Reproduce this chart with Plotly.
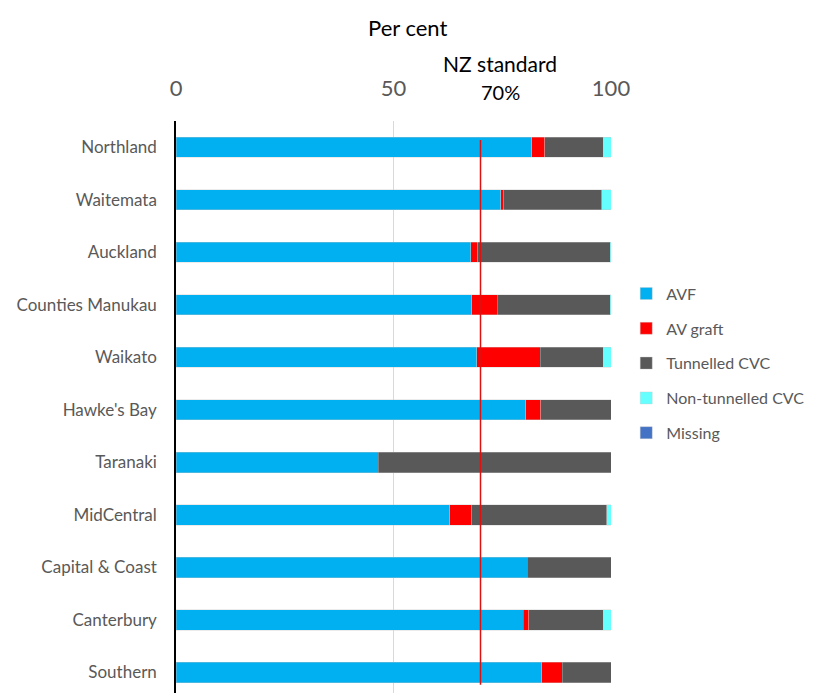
import plotly.graph_objects as go

regions = ["Northland", "Waitemata", "Auckland", "Counties Manukau", "Waikato",
           "Hawke's Bay", "Taranaki", "MidCentral", "Capital & Coast", "Canterbury", "Southern"]
avf = [81.8, 74.6, 67.7, 68.0, 69.1, 80.4, 46.5, 62.9, 80.8, 79.8, 84.1]
av_graft = [3.0, 0.7, 1.7, 5.8, 14.6, 3.4, 0.0, 5.1, 0.0, 1.3, 4.7]
tunnelled_cvc = [13.4, 22.6, 30.4, 26.0, 14.5, 16.2, 53.5, 31.0, 19.2, 17.1, 11.2]
non_tunnelled_cvc = [1.8, 2.1, 0.2, 0.2, 1.8, 0.0, 0.0, 1.0, 0.0, 1.8, 0.0]
missing = [0, 0, 0, 0, 0, 0, 0, 0, 0, 0, 0]
nz_standard = 70
x_ticks = [0, 50, 100]

series = [
    ("AVF", avf, "#00B0F0"),
    ("AV graft", av_graft, "#FF0000"),
    ("Tunnelled CVC", tunnelled_cvc, "#595959"),
    ("Non-tunnelled CVC", non_tunnelled_cvc, "#66FFFF"),
    ("Missing", missing, "#4472C4"),
]

FONT = "Lato, 'Open Sans', sans-serif"
fig = go.Figure()
for name, vals, col in series:
    fig.add_trace(go.Bar(
        y=regions, x=vals, name=name, orientation="h",
        marker=dict(color=col, line=dict(color="rgba(200,200,200,0.6)", width=0.6)),
        legendgroup=name,
    ))

fig.add_shape(type="line", xref="x", yref="y", x0=nz_standard, x1=nz_standard,
              y0=-0.14, y1=10.24, line=dict(color="#E01010", width=1.5))

fig.add_annotation(text="Per cent", xref="x", yref="paper", x=53.3, y=1.164,
                   xanchor="center", yanchor="middle",
                   showarrow=False, font=dict(family=FONT, size=22, color="black"))
fig.add_annotation(text="NZ standard", xref="x", yref="paper", x=74.5, y=1.101,
                   xanchor="center", yanchor="middle",
                   showarrow=False, font=dict(family=FONT, size=21, color="black"))
fig.add_annotation(text=f"{nz_standard}%", xref="x", yref="paper", x=74.5, y=1.051,
                   xanchor="center", yanchor="middle",
                   showarrow=False, font=dict(family=FONT, size=20, color="black"))

fig.update_layout(
    width=811, height=685,
    margin=dict(l=168, r=208, t=113, b=0, autoexpand=False),
    barmode="stack", bargap=0.61,
    plot_bgcolor="white", paper_bgcolor="white",
    font=dict(family=FONT, color="#595959"),
    xaxis=dict(side="top", range=[0, 100], tickvals=x_ticks, showgrid=True,
               gridcolor="#D9D9D9", gridwidth=1, zeroline=False, ticks="",
               tickfont=dict(size=22, color="#595959"), ticklabelstandoff=20,
               automargin=False),
    yaxis=dict(autorange=False, range=[10.395, -0.5], showline=True, linecolor="black",
               linewidth=1.5, ticks="", tickfont=dict(size=17, color="#595959"),
               ticklabelstandoff=14, automargin=False),
    legend=dict(x=1.035, y=0.728, xanchor="left", yanchor="top",
                font=dict(size=16, color="#595959"), tracegroupgap=11,
                traceorder="grouped", bgcolor="rgba(0,0,0,0)"),
    showlegend=True,
)

fig.write_html("out.html")
